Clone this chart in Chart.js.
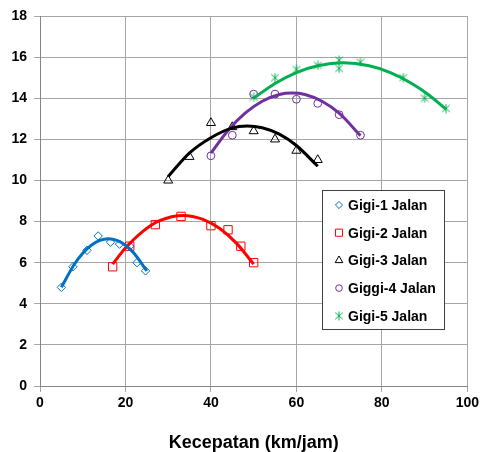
<!DOCTYPE html>
<html>
<head>
<meta charset="utf-8">
<script src="https://cdn.jsdelivr.net/npm/chart.js@4/dist/chart.umd.min.js"></script>
<style>
  html, body { margin: 0; padding: 0; background: #fff; }
  #wrap { width: 482px; height: 452px; }
</style>
</head>
<body>
<div id="wrap"><canvas id="chart" width="482" height="452"></canvas></div>
<script>
// Kecepatan vs gaya per gigi: measured points + fitted trend curves

const seriesNames = ["Gigi-1 Jalan", "Gigi-2 Jalan", "Gigi-3 Jalan", "Giggi-4 Jalan", "Gigi-5 Jalan"];

// measured points
const gigi1X = [5, 7.7, 11, 13.6, 16.5, 18.6, 21, 22.7, 24.7];
const gigi1Y = [4.8, 5.8, 6.6, 7.3, 7.0, 6.9, 6.8, 6.0, 5.6];
const gigi2X = [17, 21, 27, 33, 40, 44, 47, 50];
const gigi2Y = [5.8, 6.8, 7.85, 8.25, 7.8, 7.6, 6.8, 6.0];
const gigi3X = [30, 35, 40, 45, 50, 55, 60, 65];
const gigi3Y = [10.0, 11.15, 12.8, 12.6, 12.4, 12.0, 11.45, 11.0];
const gigi4X = [40, 45, 50, 55, 60, 65, 70, 75];
const gigi4Y = [11.2, 12.2, 14.2, 14.2, 13.95, 13.75, 13.2, 12.2];
const gigi5X = [50, 55, 60, 65, 70, 70, 75, 85, 90, 95];
const gigi5Y = [14.05, 15.0, 15.4, 15.6, 15.85, 15.45, 15.75, 15.0, 14.0, 13.5];

// trend curves (polynomial fit lines)
const trend1X = [5, 8, 10, 12, 14, 16, 18, 20, 22, 25];
const trend1Y = [4.8, 5.91, 6.46, 6.85, 7.08, 7.16, 7.08, 6.85, 6.46, 5.6];
const trend2X = [17, 20, 24, 28, 33.5, 38, 42, 46, 50];
const trend2Y = [5.93, 6.71, 7.51, 8.04, 8.3, 8.12, 7.67, 6.94, 5.93];
const trend3X = [30, 35, 40, 45, 48.5, 52, 56, 60, 65];
const trend3Y = [10.19, 11.34, 12.08, 12.56, 12.65, 12.56, 12.25, 11.7, 10.69];
const trend4X = [40, 44, 48, 52, 56, 59, 62, 66, 70, 75];
const trend4Y = [11.33, 12.43, 13.27, 13.85, 14.18, 14.25, 14.18, 13.85, 13.27, 12.18];
const trend5X = [50, 55, 60, 65, 71, 77, 82, 87, 91, 95];
const trend5Y = [14.0, 14.72, 15.25, 15.58, 15.72, 15.58, 15.25, 14.72, 14.16, 13.47];

const xTicks = [0, 20, 40, 60, 80, 100];
const yTicks = [0, 2, 4, 6, 8, 10, 12, 14, 16, 18];

const colors = ["#0070C0", "#FF0000", "#000000", "#7030A0", "#00B050"];

// asterisk marker: X with a vertical bar
function makeAsterisk(size, color) {
  const c = document.createElement("canvas");
  c.width = size; c.height = size;
  const g = c.getContext("2d");
  const m = size / 2, r = size / 2 - 0.5;
  g.strokeStyle = color;
  g.lineWidth = 1;
  g.beginPath();
  g.moveTo(m, m - r); g.lineTo(m, m + r);
  g.moveTo(m - r * 0.85, m - r * 0.75); g.lineTo(m + r * 0.85, m + r * 0.75);
  g.moveTo(m + r * 0.85, m - r * 0.75); g.lineTo(m - r * 0.85, m + r * 0.75);
  g.stroke();
  return c;
}

const markers = [
  { pointStyle: "rectRot", radius: 4.2 },
  { pointStyle: "rect", radius: 5.9 },
  { pointStyle: "triangle", radius: 5.2 },
  { pointStyle: "circle", radius: 3.9 },
  { pointStyle: makeAsterisk(10, colors[4]), radius: 5 }
];

const pts = (xs, ys) => xs.map((x, i) => ({ x: x, y: ys[i] }));

const pointSets = [[gigi1X, gigi1Y], [gigi2X, gigi2Y], [gigi3X, gigi3Y], [gigi4X, gigi4Y], [gigi5X, gigi5Y]];
const trendSets = [[trend1X, trend1Y], [trend2X, trend2Y], [trend3X, trend3Y], [trend4X, trend4Y], [trend5X, trend5Y]];

const datasets = [];
// curves first so they sit on top of the markers
trendSets.forEach(([xs, ys], i) => {
  datasets.push({
    label: "trend " + (i + 1),
    data: pts(xs, ys),
    showLine: true,
    borderColor: colors[i],
    borderWidth: 3,
    pointRadius: 0,
    tension: 0.4,
    cubicInterpolationMode: "monotone",
    fill: false
  });
});
pointSets.forEach(([xs, ys], i) => {
  datasets.push({
    label: seriesNames[i],
    data: pts(xs, ys),
    showLine: false,
    borderColor: colors[i],
    backgroundColor: "rgba(0,0,0,0)",
    pointBorderWidth: 1,
    pointStyle: markers[i].pointStyle,
    pointRadius: markers[i].radius
  });
});

// boxed legend drawn inside the plot area
const legendBox = {
  id: "legendBox",
  afterDatasetsDraw(chart) {
    const ctx = chart.ctx;
    ctx.save();
    ctx.fillStyle = "#ffffff";
    ctx.fillRect(322.5, 190.5, 122, 139);
    ctx.strokeStyle = "#404040";
    ctx.lineWidth = 1;
    ctx.strokeRect(322.5, 190.5, 122, 139);
    ctx.font = "bold 14px 'Liberation Sans', Arial, sans-serif";
    ctx.textBaseline = "middle";
    seriesNames.forEach((name, i) => {
      const y = 205 + i * 27.7;
      ctx.strokeStyle = colors[i];
      ctx.fillStyle = "rgba(0,0,0,0)";
      ctx.lineWidth = 1;
      Chart.helpers.drawPoint(ctx, { pointStyle: markers[i].pointStyle, radius: markers[i].radius * 0.85, borderWidth: 1, rotation: 0 }, 339, y);
      ctx.fillStyle = "#000";
      ctx.fillText(name, 348, y + 1);
    });
    ctx.restore();
  }
};

const tickFont = { family: "'Liberation Sans', Arial, sans-serif", size: 14, weight: "bold" };

new Chart(document.getElementById("chart"), {
  type: "scatter",
  data: { datasets: datasets },
  options: {
    responsive: false,
    devicePixelRatio: 1,
    animation: false,
    layout: { padding: { top: 16, right: 13, left: 0, bottom: 0 } },
    plugins: { legend: { display: false }, tooltip: { enabled: false } },
    scales: {
      x: {
        type: "linear",
        min: 0,
        max: 100,
        afterBuildTicks: (scale) => { scale.ticks = xTicks.map(v => ({ value: v })); },
        afterFit: (scale) => { scale.height = 66; },
        grid: { color: "#A6A6A6", lineWidth: 1, tickLength: 6, drawTicks: true },
        border: { color: "#868686", width: 1 },
        ticks: { color: "#000", font: tickFont, padding: 3, maxRotation: 0 },
        title: {
          display: true,
          text: "Kecepatan (km/jam)",
          color: "#000",
          font: { family: "'Liberation Sans', Arial, sans-serif", size: 18, weight: "bold", lineHeight: 1 },
          padding: 0
        }
      },
      y: {
        type: "linear",
        min: 0,
        max: 18,
        afterBuildTicks: (scale) => { scale.ticks = yTicks.map(v => ({ value: v })); },
        afterFit: (scale) => { scale.width = 40; },
        grid: { color: "#A6A6A6", lineWidth: 1, tickLength: 6 },
        border: { color: "#868686", width: 1 },
        ticks: { color: "#000", font: tickFont, padding: 7 }
      }
    }
  },
  plugins: [legendBox]
});
</script>
</body>
</html>
